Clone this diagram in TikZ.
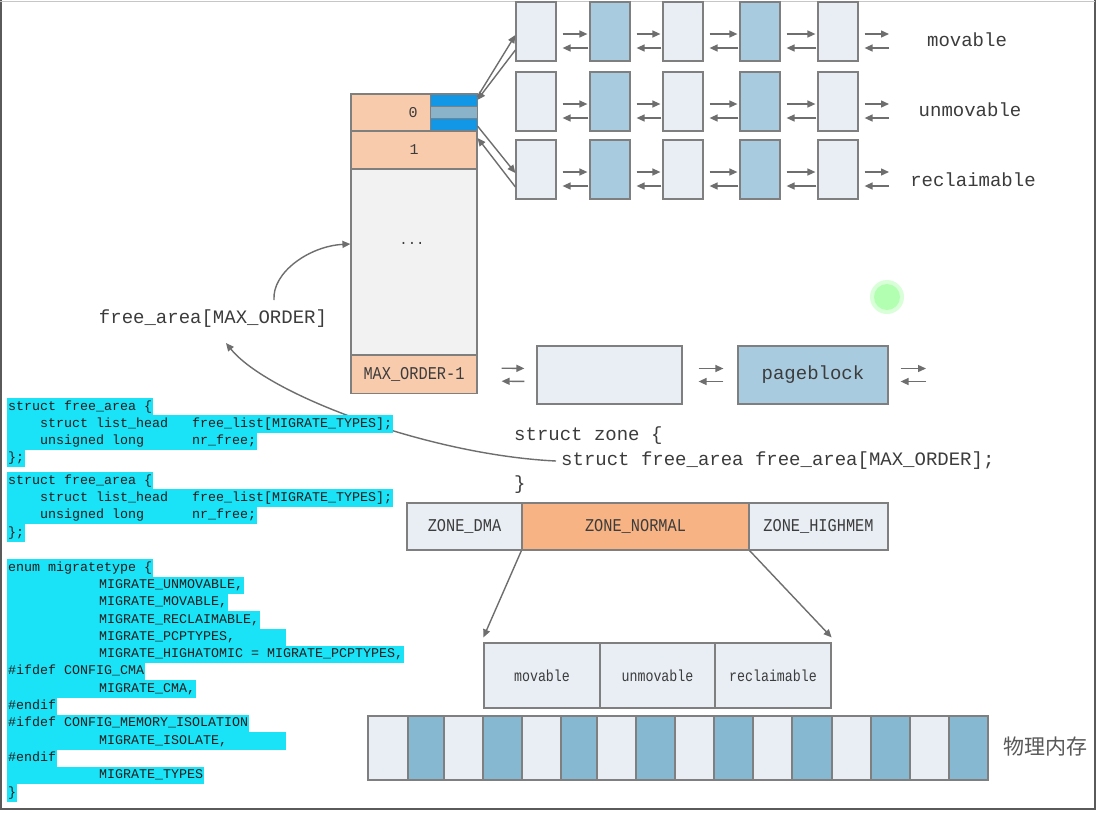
\documentclass[tikz,border=0pt]{standalone}
\usepackage{fontspec}
\usepackage{graphicx}
\usetikzlibrary{arrows.meta}
\newfontfamily\monof{Liberation Mono}
\newfontfamily\cjkf{Noto Sans CJK SC}
\definecolor{orangecell}{HTML}{F8CBAD}
\definecolor{zonenormal}{HTML}{F7B384}
\definecolor{lightbox}{HTML}{E8EEF4}
\definecolor{darkbox}{HTML}{A9CBDF}
\definecolor{memdark}{HTML}{86B8D1}
\definecolor{colgray}{HTML}{F2F2F2}
\definecolor{stripeblue}{HTML}{1197E6}
\definecolor{stripemid}{HTML}{8AB2C9}
\definecolor{bordergray}{HTML}{7F7F7F}
\definecolor{arrgray}{HTML}{6E6E6E}
\definecolor{hl}{HTML}{1BE3F7}
\definecolor{labeltext}{HTML}{3C3C3C}
\definecolor{codetext}{HTML}{1E1E1E}
\definecolor{framegray}{HTML}{5A5A5A}
\newlength\cwid \setlength\cwid{8pt}
\newcommand\csp[1]{\hspace*{#1\cwid}}
\newcommand\codefont{\monof\fontsize{13.333}{16}\selectfont}
\newcommand\bigmono{\monof\fontsize{19}{22}\selectfont}
\newcommand\condmono{\monof\fontsize{18}{20}\selectfont}
\newcommand\smallcond{\monof\fontsize{16}{18}\selectfont}
\newcommand\cz[1]{\scalebox{0.85}[1]{#1}}
\newcommand\cy[1]{\scalebox{0.83}[1]{#1}}
\begin{document}
\begin{tikzpicture}[x=1pt,y=-1pt,
  box/.style={draw=bordergray, line width=1.2pt, inner sep=0pt},
  lbox/.style={box, fill=lightbox, minimum width=40pt, minimum height=59pt},
  dbox/.style={box, fill=darkbox, minimum width=40pt, minimum height=59pt},
  cell/.style={box, fill=orangecell, minimum width=126pt, text=labeltext},
  stripe/.style={draw=bordergray, line width=0.6pt, inner sep=0pt, minimum width=47pt},
  arr/.style={draw=arrgray, line width=1.4pt, -{Triangle[length=8pt,width=7pt]}},
  codel/.style={fill=hl, anchor=west, inner xsep=1pt, inner ysep=0pt, text height=11.8pt, text depth=5.5pt, font=\codefont, text=codetext},
  lab/.style={font=\bigmono, text=labeltext, inner sep=0pt}
]
\useasboundingbox (0,0) rectangle (1101,812);
\fill[white] (0,0) rectangle (1101,812);
% frame
\draw[framegray, line width=2pt] (1,0) -- (1,809) -- (1095,809) -- (1095,0);
\draw[gray!45, line width=1pt] (0,1) -- (1095,1);

% cursor glow
\fill[green!30!white, opacity=0.5] (887,297) circle (17);
\fill[green!40!white, opacity=0.6] (887,297) circle (13);

% ---- free_area column
\node[cell, minimum height=37pt] (r0) at (414,112.5) {};
\node[stripe, fill=stripeblue, minimum height=12pt] (s1) at (453.5,100) {};
\node[stripe, fill=stripemid, minimum height=12pt] (s2) at (453.5,112) {};
\node[stripe, fill=stripeblue, minimum height=12.5pt] (s3) at (453.5,124.25) {};
\node[font=\monof\fontsize{15}{17}\selectfont, text=labeltext] (t0) at (413,113) {0};
\node[cell, minimum height=38pt, font=\monof\fontsize{15}{17}\selectfont] (r1) at (414,150) {1};
\node[box, fill=colgray, minimum width=126pt, minimum height=186pt] (rmid) at (414,262) {};
\node[font=\monof\fontsize{14}{16}\selectfont, text=labeltext] (dots) at (412,243) {...};
\node[cell, minimum height=38pt, font=\condmono] (rmax) at (414,374.5) {\cz{MAX\_ORDER-1}};

% ---- three free lists
\foreach \r/\y in {1/31.5,2/101.5,3/169.5}{
  \foreach \x [count=\c] in {536,610,683,760,838}{
    \ifodd\c \def\bst{lbox}\else\def\bst{dbox}\fi
    \node[\bst] (b\r\c) at (\x,\y) {};
  }
  \foreach \c/\d in {1/2,2/3,3/4,4/5}{
    \draw[arr, shorten <=6pt, shorten >=2pt] ([yshift=-2.5pt]b\r\c.east) -- ([yshift=-2.5pt]b\r\d.west);
    \draw[arr, shorten <=1pt, shorten >=6pt] ([yshift=-16.5pt]b\r\d.west) -- ([yshift=-16.5pt]b\r\c.east);
  }
  \coordinate (er\r) at (889,{\y+2.5});
  \coordinate (el\r) at (889,{\y+16.5});
  \draw[arr, shorten <=6pt] ([yshift=-2.5pt]b\r5.east) -- (er\r);
  \draw[arr, shorten >=6pt] (el\r) -- ([yshift=-16.5pt]b\r5.east);
}
\node[lab] (lmov) at (967,40) {movable};
\node[lab] (lunm) at (970,110) {unmovable};
\node[lab] (lrec) at (973,180) {reclaimable};

% links from order-0 stripes
\draw[arr] ([yshift=3pt]s1.east) -- ([yshift=-3.5pt]b11.west);
\draw[arr] ([yshift=-18.5pt]b11.west) -- (s1.east);
\draw[arr] ([yshift=-1.5pt]s3.east) -- ([yshift=-3.5pt]b31.west);
\draw[arr] ([yshift=-17.5pt]b31.west) -- ([yshift=12pt]r1.east);

% ---- MAX_ORDER-1 list
\node[box, fill=lightbox, minimum width=145pt, minimum height=58pt] (L1) at (609.5,375) {};
\node[box, fill=darkbox, minimum width=150pt, minimum height=58pt, font=\bigmono, text=labeltext] (pb) at (813,375) {pageblock};
\draw[arr, shorten <=24pt, shorten >=12pt] ([yshift=6.5pt]rmax.east) -- ([yshift=6.5pt]L1.west);
\draw[arr, shorten <=12pt, shorten >=24pt] ([yshift=-6.5pt]L1.west) -- ([yshift=-6.5pt]rmax.east);
\draw[arr, shorten <=16pt, shorten >=14pt] ([yshift=6.5pt]L1.east) -- ([yshift=6.5pt]pb.west);
\draw[arr, shorten <=14pt, shorten >=16pt] ([yshift=-6.5pt]pb.west) -- ([yshift=-6.5pt]L1.east);
\coordinate (pr) at (926,368.5);
\coordinate (pl) at (926,381.5);
\draw[arr, shorten <=12pt] ([yshift=6.5pt]pb.east) -- (pr);
\draw[arr, shorten >=12pt] (pl) -- ([yshift=-6.5pt]pb.east);

% ---- free_area label and curves
\node[lab] (fa) at (213,319) {free\_area[MAX\_ORDER]};
\draw[arr] ([xshift=61pt,yshift=19pt]fa.center) .. controls (272,272) and (310,246) .. ([yshift=18pt]rmid.west);

% ---- struct zone
\node[lab, anchor=west] (sz) at (514,436) {struct zone \{};
\node[lab, anchor=west] (sfa) at (561,461) {struct free\_area free\_area[MAX\_ORDER];};
\node[lab, anchor=west] (szc) at (514,485) {\}};
\draw[arr] ([xshift=-5pt]sfa.west) .. controls (430,455) and (268,395) .. ([xshift=13pt,yshift=-24pt]fa.center);

% ---- zones
\node[box, fill=lightbox, minimum width=115pt, minimum height=47pt, font=\condmono, text=labeltext] (zdma) at (464.5,526.5) {\cz{ZONE\_DMA}};
\node[box, fill=zonenormal, minimum width=227pt, minimum height=47pt, font=\condmono, text=labeltext] (znorm) at (635.5,526.5) {\cz{ZONE\_NORMAL}};
\node[box, fill=lightbox, minimum width=139pt, minimum height=47pt, font=\condmono, text=labeltext] (zhigh) at (818.5,526.5) {\cz{ZONE\_HIGHMEM}};

% ---- migrate type boxes
\node[box, fill=lightbox, minimum width=116pt, minimum height=65pt, font=\smallcond, text=labeltext] (mt1) at (542,675.5) {\cy{movable}};
\node[box, fill=lightbox, minimum width=115pt, minimum height=65pt, font=\smallcond, text=labeltext] (mt2) at (657.5,675.5) {\cy{unmovable}};
\node[box, fill=lightbox, minimum width=116pt, minimum height=65pt, font=\smallcond, text=labeltext] (mt3) at (773,675.5) {\cy{reclaimable}};
\draw[arr] (znorm.south west) -- ([yshift=5pt]mt1.north west);
\draw[arr] (znorm.south east) -- ([yshift=5pt]mt3.north east);

% ---- physical memory
\foreach \a/\b [count=\i] in {368/408,408/444,444/483,483/522,522/561,561/597,597/636,636/675,675/714,714/753,753/792,792/832,832/871,871/910,910/949,949/988}{
  \pgfmathsetmacro\w{\b-\a}
  \pgfmathsetmacro\cx{(\a+\b)/2}
  \ifodd\i \def\mcol{lightbox}\else\def\mcol{memdark}\fi
  \node[box, fill=\mcol, minimum width=\w pt, minimum height=64pt] (m\i) at (\cx,748) {};
}
\node[font=\cjkf\fontsize{21}{24}\selectfont, text=labeltext!85!white, inner sep=0pt] (phys) at (1045,747) {物理内存};

% ---- code
\node[codel] (c1) at (7,407) {struct free\_area \{};
\node[codel] (c2) at (7,424) {\csp{4}struct list\_head\csp{3}free\_list[MIGRATE\_TYPES];};
\node[codel] (c3) at (7,441) {\csp{4}unsigned long\csp{6}nr\_free;};
\node[codel] (c4) at (7,458) {\};};
\node[codel] (c5) at (7,481) {struct free\_area \{};
\node[codel] (c6) at (7,498) {\csp{4}struct list\_head\csp{3}free\_list[MIGRATE\_TYPES];};
\node[codel] (c7) at (7,515.5) {\csp{4}unsigned long\csp{6}nr\_free;};
\node[codel] (c8) at (7,533) {\};};
\node[codel] (e1) at (7,568) {enum migratetype \{};
\node[codel] (e2) at (7,585.3) {\hspace*{91pt}MIGRATE\_UNMOVABLE,};
\node[codel] (e3) at (7,602.6) {\hspace*{91pt}MIGRATE\_MOVABLE,};
\node[codel] (e4) at (7,619.9) {\hspace*{91pt}MIGRATE\_RECLAIMABLE,};
\node[codel] (e5) at (7,637.2) {\hspace*{91pt}MIGRATE\_PCPTYPES,\hspace*{50pt}};
\node[codel] (e6) at (7,654.5) {\hspace*{91pt}MIGRATE\_HIGHATOMIC = MIGRATE\_PCPTYPES,};
\node[codel] (e7) at (7,671.8) {\#ifdef CONFIG\_CMA};
\node[codel] (e8) at (7,689.1) {\hspace*{91pt}MIGRATE\_CMA,};
\node[codel] (e9) at (7,706.4) {\#endif};
\node[codel] (e10) at (7,723.7) {\#ifdef CONFIG\_MEMORY\_ISOLATION};
\node[codel] (e11) at (7,741) {\hspace*{91pt}MIGRATE\_ISOLATE,\hspace*{58pt}};
\node[codel] (e12) at (7,758.3) {\#endif};
\node[codel] (e13) at (7,775.6) {\hspace*{91pt}MIGRATE\_TYPES};
\node[codel] (e14) at (7,792.9) {\}};
\end{tikzpicture}
\end{document}
